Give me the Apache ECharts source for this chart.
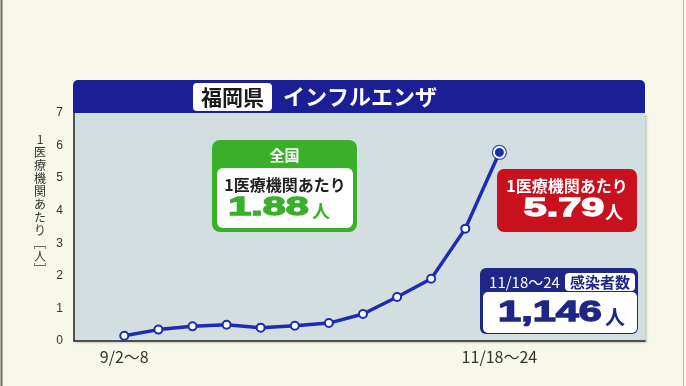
<!DOCTYPE html>
<html><head><meta charset="utf-8">
<script src="https://cdn.jsdelivr.net/npm/echarts@6/dist/echarts.min.js"></script>
<style>html,body{margin:0;padding:0;background:#f8f8ea;}#c{width:686px;height:386px;}</style>
</head><body><div id="c"></div>
<script>
const weeks = ['9/2～8','9/9～15','9/16～22','9/23～29','9/30～10/6','10/7～13','10/14～20','10/21～27','10/28～11/3','11/4～10','11/11～17','11/18～24'];
const perClinic = [0.16, 0.35, 0.45, 0.50, 0.41, 0.47, 0.55, 0.83, 1.35, 1.91, 3.45, 5.79];
const shownLabels = [0, 11];
const yTicks = [0, 1, 2, 3, 4, 5, 6, 7];

const JP = '"Noto Sans CJK JP", sans-serif';
const NUM = '"Liberation Sans", Arial, sans-serif';
const BLUE = '#1b2db0';
const NAVY = '#1f2786';
const GREEN = '#3aaf2a';

const lastIdx = perClinic.length - 1;
const lineData = perClinic.map((v, i) => i === lastIdx
  ? { value: [i, v], symbolSize: 11, itemStyle: { color: BLUE, borderColor: '#fff', borderWidth: 2 } }
  : [i, v]);

function txt(x, y, text, size, color, weight) {
  return {
    type: 'text', x: x, y: y, z: 110,
    style: { text: text, fill: color, font: (weight || 'bold') + ' ' + size + 'px ' + JP, textAlign: 'center', textVerticalAlign: 'middle' }
  };
}
function bigNum(x, y, text, size, color, sx) {
  return {
    type: 'text', x: x, y: y, z: 110, scaleX: sx,
    style: { text: text, fill: color, stroke: color, lineWidth: 1.3, font: 'bold ' + size + 'px ' + NUM, textAlign: 'center', textVerticalAlign: 'middle' }
  };
}
function rect(x, y, w, h, r, fill, z) {
  return { type: 'rect', z: z || 100, shape: { x: x, y: y, width: w, height: h, r: r }, style: { fill: fill } };
}

const chart = echarts.init(document.getElementById('c'));
chart.setOption({
  backgroundColor: '#f8f8ea',
  animation: false,
  grid: { left: 74, right: 41, top: 113, bottom: 45, show: true, backgroundColor: '#d3dee0', borderWidth: 0,
          shadowColor: 'rgba(0,0,0,0.18)', shadowOffsetX: 2, shadowOffsetY: 2, shadowBlur: 2 },
  xAxis: {
    type: 'value', min: -1.475, max: 15.27,
    axisLine: { show: true, onZero: false, lineStyle: { color: '#222', width: 1.5 } },
    axisTick: { show: false }, splitLine: { show: false },
    axisLabel: { customValues: shownLabels, formatter: v => weeks[Math.round(v)] || '', color: '#333', fontSize: 16, fontFamily: JP, margin: 8 }
  },
  yAxis: {
    type: 'value', min: yTicks[0], max: yTicks[yTicks.length - 1], interval: 1,
    axisLine: { show: true, onZero: false, lineStyle: { color: '#222', width: 1.5 } },
    axisTick: { show: false }, splitLine: { show: false },
    axisLabel: { color: '#333', fontSize: 12, fontFamily: NUM, margin: 11 }
  },
  series: [
    { type: 'line', data: lineData, symbol: 'circle', symbolSize: 8, z: 5,
      lineStyle: { color: BLUE, width: 3.5 },
      itemStyle: { color: '#fff', borderColor: BLUE, borderWidth: 2 } },
    { type: 'scatter', data: [[lastIdx, perClinic[lastIdx]]], symbolSize: 14, z: 6,
      itemStyle: { color: 'rgba(0,0,0,0)', borderColor: BLUE, borderWidth: 1.3 } }
  ],
  graphic: [
    { type: 'line', z: 100, shape: { x1: 1.5, y1: 0, x2: 1.5, y2: 386 }, style: { stroke: '#6e6e5e', lineWidth: 2 } },
    { type: 'line', z: 100, shape: { x1: 683.5, y1: 0, x2: 683.5, y2: 386 }, style: { stroke: '#b8b8a8', lineWidth: 1 } },
    // title bar
    rect(73, 80, 572, 33, [5, 5, 0, 0], '#1b1f96'),
    rect(193, 83, 79, 28, 4, '#ffffff', 105),
    txt(232.5, 97, '福岡県', 21, '#1a1a1a'),
    txt(360, 97, 'インフルエンザ', 22, '#ffffff'),
    // y axis title
    { type: 'text', x: 40, y: 204, z: 110,
      style: { text: '1\n医\n療\n機\n関\nあ\nた\nり\n﹇\n人\n﹈', fill: '#333', font: '12px ' + JP, lineHeight: 13, textAlign: 'center', textVerticalAlign: 'middle' } },
    // national box (green)
    rect(212, 140, 145, 92, 8, GREEN),
    txt(284.5, 155, '全国', 15, '#ffffff'),
    rect(217, 168, 136, 60, 6, '#ffffff', 105),
    txt(285, 185, '1医療機関あたり', 16, '#222'),
    bigNum(268.5, 208, '1.88', 25, GREEN, 1.65),
    txt(321, 211, '人', 18, GREEN),
    // Fukuoka box (red)
    rect(497, 169, 140, 63, 7, '#c8101e'),
    txt(567, 186, '1医療機関あたり', 16, '#ffffff'),
    bigNum(564, 209, '5.79', 25, '#ffffff', 1.65),
    txt(614, 212, '人', 18, '#ffffff'),
    // infections box (navy)
    rect(480, 268, 158, 66, 6, NAVY),
    txt(524.5, 282, '11/18～24', 15, '#ffffff', 'normal'),
    rect(565, 273, 70, 18, 4, '#ffffff', 105),
    txt(600, 282, '感染者数', 15, NAVY),
    rect(483, 292, 154, 41, 5, '#ffffff', 105),
    bigNum(550, 313, '1,146', 29, NAVY, 1.43),
    txt(615, 317, '人', 20, NAVY)
  ]
});
</script>
</body></html>
